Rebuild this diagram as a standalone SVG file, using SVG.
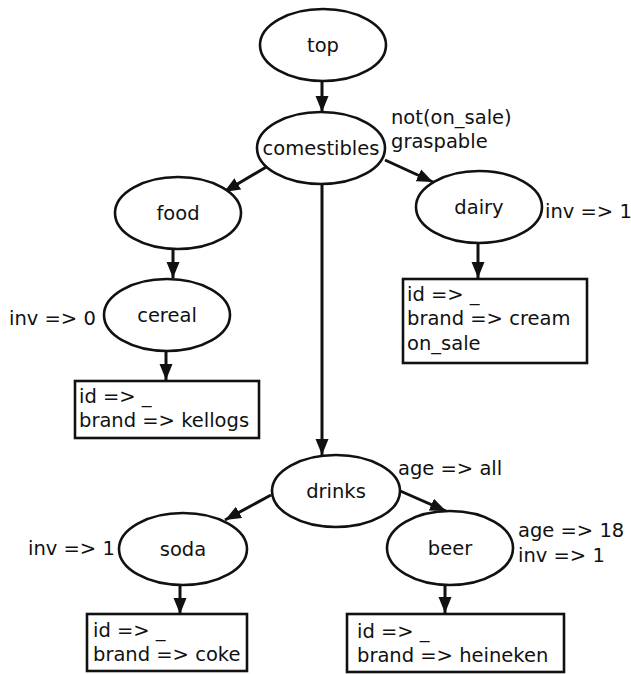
<svg xmlns="http://www.w3.org/2000/svg" width="631" height="674" viewBox="0 0 631 674">
<defs>
<style>
.n{fill:#fff;stroke:#111;stroke-width:2.6}
.b{fill:#fff;stroke:#111;stroke-width:2.6}
.t{font-family:"DejaVu Sans",sans-serif;font-size:19.5px;fill:#111}
.c{text-anchor:middle}
.e{fill:none;stroke:#111;stroke-width:3;marker-end:url(#ah)}
</style>
<marker id="ah" markerUnits="userSpaceOnUse" markerWidth="17" markerHeight="14" refX="16" refY="7" orient="auto">
<path d="M0,0.5 L16,7 L0,13.5 z" fill="#111"/>
</marker>
</defs>
<rect width="631" height="674" fill="#fff"/>
<g id="edges">
<path class="e" d="M322,82 L322,112"/>
<path class="e" d="M268,166 L224,192"/>
<path class="e" d="M385,160 L433,182"/>
<path class="e" d="M322,184 L322,455"/>
<path class="e" d="M173,249 L173,278"/>
<path class="e" d="M166,351 L166,380"/>
<path class="e" d="M478,243 L478,278"/>
<path class="e" d="M271,495 L225,520"/>
<path class="e" d="M398,490 L446,511"/>
<path class="e" d="M180,585 L180,614"/>
<path class="e" d="M445,585 L445,613"/>
</g>
<g id="top">
<ellipse class="n" cx="323" cy="45" rx="63" ry="36"/>
<text class="t c" x="323" y="52">top</text>
</g>
<g id="comestibles">
<ellipse class="n" cx="321" cy="148" rx="64" ry="36"/>
<text class="t c" x="321" y="155">comestibles</text>
<text class="t" x="391" y="124">not(on_sale)</text>
<text class="t" x="391" y="148">graspable</text>
</g>
<g id="food">
<ellipse class="n" cx="178" cy="213" rx="63" ry="36"/>
<text class="t c" x="178" y="220">food</text>
</g>
<g id="cereal">
<ellipse class="n" cx="167" cy="315" rx="63" ry="36"/>
<text class="t c" x="167" y="322">cereal</text>
<text class="t" x="9" y="325">inv =&gt; 0</text>
</g>
<g id="cereal-box">
<rect class="b" x="75" y="381" width="184" height="57"/>
<text class="t" x="79" y="403">id =&gt; _</text>
<text class="t" x="79" y="427">brand =&gt; kellogs</text>
</g>
<g id="dairy">
<ellipse class="n" cx="479" cy="207" rx="63" ry="36"/>
<text class="t c" x="479" y="214">dairy</text>
<text class="t" x="545" y="218">inv =&gt; 1</text>
</g>
<g id="dairy-box">
<rect class="b" x="403" y="279" width="184" height="84"/>
<text class="t" x="407" y="301">id =&gt; _</text>
<text class="t" x="407" y="325">brand =&gt; cream</text>
<text class="t" x="407" y="350">on_sale</text>
</g>
<g id="drinks">
<ellipse class="n" cx="336" cy="491" rx="64" ry="36"/>
<text class="t c" x="336" y="498">drinks</text>
<text class="t" x="398" y="475">age =&gt; all</text>
</g>
<g id="soda">
<ellipse class="n" cx="183" cy="549" rx="64" ry="36"/>
<text class="t c" x="183" y="556">soda</text>
<text class="t" x="28" y="555">inv =&gt; 1</text>
</g>
<g id="soda-box">
<rect class="b" x="87" y="614" width="160" height="57"/>
<text class="t" x="93" y="637">id =&gt; _</text>
<text class="t" x="93" y="661">brand =&gt; coke</text>
</g>
<g id="beer">
<ellipse class="n" cx="450" cy="548" rx="63" ry="37"/>
<text class="t c" x="450" y="555">beer</text>
<text class="t" x="518" y="537">age =&gt; 18</text>
<text class="t" x="518" y="562">inv =&gt; 1</text>
</g>
<g id="beer-box">
<rect class="b" x="347" y="614" width="217" height="58"/>
<text class="t" x="357" y="638">id =&gt; _</text>
<text class="t" x="357" y="662">brand =&gt; heineken</text>
</g>
</svg>
